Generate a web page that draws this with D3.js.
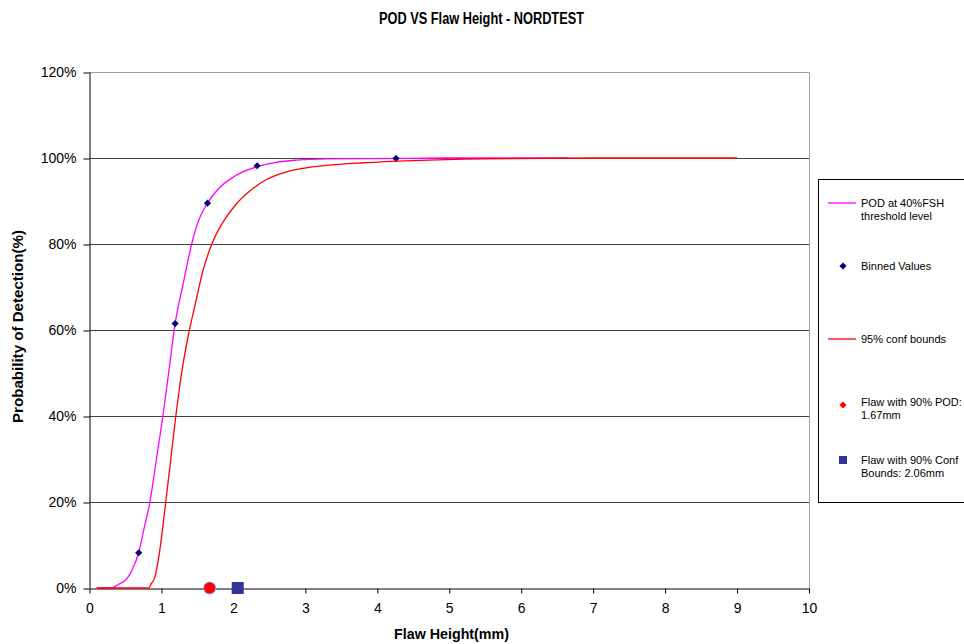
<!DOCTYPE html>
<html>
  <head>
    <meta charset="utf-8">
    <title>POD VS Flaw Height - NORDTEST</title>
    <script src="https://d3js.org/d3.v7.min.js"></script>
  </head>
  <body>
  <style media="screen">
    body { margin:0; background:#fff; }
    svg { display:block; font-family:"Liberation Sans", Arial, sans-serif; }
    .grid line { stroke:#404040; stroke-width:1; }
  </style>

<svg id="chart" width="964" height="644"></svg>

<script>
// pink POD curve (x in mm, y in %)
var podX = [0.1, 0.3, 0.4, 0.52, 0.6, 0.684, 0.76, 0.84, 0.93, 1.02, 1.1, 1.19, 1.305, 1.42, 1.51, 1.64, 1.79, 2.0, 2.33, 2.6, 2.88, 3.3, 4.26, 5.0, 6.66];
var podY = [0, 0, 0.8, 2.2, 4.5, 8.2, 14, 20, 30, 40, 50, 61.5, 71, 80, 85.2, 89.5, 92.8, 95.6, 98.0, 99.0, 99.5, 99.8, 99.9, 100, 100];

// red 95% conf bound curve
var confX = [0.1, 0.82, 0.86, 0.91, 0.97, 1.06, 1.13, 1.2, 1.28, 1.374, 1.467, 1.574, 1.70, 1.86, 2.02, 2.28, 2.46, 2.74, 2.93, 3.3, 3.81, 4.5, 5.5, 7.0, 9.0];
var confY = [0, 0, 1, 2.6, 8, 20, 30, 40, 50, 58.8, 65.8, 73.6, 80, 85.2, 88.9, 93, 95.0, 96.8, 97.5, 98.3, 98.9, 99.4, 99.8, 100, 100];

// binned points
var binX = [0.684, 1.19, 1.64, 2.33, 4.26];
var binY = [8.2, 61.5, 89.5, 98.2, 99.9];

// flaw markers
var pod90 = 1.67, conf90 = 2.06;

var xTicks = [0, 1, 2, 3, 4, 5, 6, 7, 8, 9, 10];
var yTicks = [0, 20, 40, 60, 80, 100, 120];

var legendLabels = [
  ["POD at 40%FSH", "threshold level"],
  ["Binned Values"],
  ["95% conf bounds"],
  ["Flaw with 90% POD:", "1.67mm"],
  ["Flaw with 90% Conf", "Bounds: 2.06mm"]
];

var svg = d3.select('#chart');

var x = d3.scaleLinear().domain([0, 10]).range([89.5, 809]);
var y = d3.scaleLinear().domain([0, 120]).range([588, 72]);

// grid lines
svg.append('g').attr('class', 'grid')
  .selectAll('line').data(yTicks.filter(d => d > 0 && d < 120))
  .enter().append('line')
  .attr('x1', x(0)).attr('x2', x(10))
  .attr('y1', d => Math.round(y(d)) + 0.5).attr('y2', d => Math.round(y(d)) + 0.5);

// top and right border (grey)
svg.append('path')
  .attr('d', 'M' + x(0) + ',' + (Math.round(y(120)) + 0.5) + 'H' + (x(10) + 0.5) + 'V' + y(0))
  .attr('fill', 'none').attr('stroke', '#a0a0a0');

// axes
var xAxis = svg.append('g')
  .attr('transform', 'translate(0,' + (Math.round(y(0)) + 0.5) + ')')
  .call(d3.axisBottom(x).tickValues(xTicks).tickSize(5).tickSizeOuter(0).tickFormat(d3.format('d')));
xAxis.selectAll('text').attr('font-size', 14).attr('fill', '#000').attr('dy', '1.2em');

var yAxis = svg.append('g')
  .attr('transform', 'translate(' + (x(0)) + ',0)')
  .call(d3.axisLeft(y).tickValues(yTicks).tickSize(6).tickSizeOuter(0).tickFormat(d => d + '%'));
yAxis.selectAll('text').attr('font-size', 14).attr('fill', '#000').attr('x', -13);
svg.selectAll('.domain, .tick line').attr('stroke', '#000');
yAxis.selectAll('.tick line').attr('y1', 0.5).attr('y2', 0.5);

var line = d3.line().x(d => x(d[0])).y(d => y(d[1])).curve(d3.curveMonotoneX);

// POD curve
svg.append('path')
  .datum(d3.zip(podX, podY))
  .attr('d', line).attr('fill', 'none').attr('stroke', '#ff00ff').attr('stroke-width', 1.3);

// binned values (diamond = rotated square)
var diamond = d3.symbol().type(d3.symbolSquare).size(26);
svg.append('g').selectAll('path').data(d3.zip(binX, binY))
  .enter().append('path')
  .attr('d', diamond)
  .attr('transform', d => 'translate(' + x(d[0]) + ',' + y(d[1]) + ') rotate(45)')
  .attr('fill', '#000080');

// conf bound curve
svg.append('path')
  .datum(d3.zip(confX, confY))
  .attr('d', line).attr('fill', 'none').attr('stroke', '#ff0000').attr('stroke-width', 1.3);

// flaw markers
svg.append('circle')
  .attr('cx', x(pod90)).attr('cy', y(0)).attr('r', 6)
  .attr('fill', '#ff0000').attr('stroke', '#9999cc').attr('stroke-width', 1);
svg.append('rect')
  .attr('x', x(conf90) - 6).attr('y', y(0) - 6).attr('width', 12).attr('height', 12)
  .attr('fill', '#333399');

// title and axis titles
svg.append('text')
  .attr('x', 379).attr('y', 24)
  .attr('font-size', 16).attr('font-weight', 'bold')
  .attr('textLength', 205).attr('lengthAdjust', 'spacingAndGlyphs')
  .text('POD VS Flaw Height - NORDTEST');

svg.append('text')
  .attr('x', 394).attr('y', 639)
  .attr('font-size', 14).attr('font-weight', 'bold')
  .attr('textLength', 115).attr('lengthAdjust', 'spacingAndGlyphs')
  .text('Flaw Height(mm)');

svg.append('text')
  .attr('transform', 'translate(23,423) rotate(-90)')
  .attr('font-size', 14).attr('font-weight', 'bold')
  .attr('textLength', 193).attr('lengthAdjust', 'spacingAndGlyphs')
  .text('Probability of Detection(%)');

// legend
var lg = svg.append('g');
lg.append('rect')
  .attr('x', 818.5).attr('y', 179.5).attr('width', 160).attr('height', 323)
  .attr('fill', '#fff').attr('stroke', '#000');

var legY = [203, 266, 339, 405, 460];
var legBase = [207, 270, 343, 406, 464];
lg.append('line').attr('x1', 828).attr('x2', 856).attr('y1', legY[0]).attr('y2', legY[0])
  .attr('stroke', '#ff00ff').attr('stroke-width', 1.3);
lg.append('path').attr('d', diamond).attr('transform', 'translate(843,' + legY[1] + ') rotate(45)').attr('fill', '#000080');
lg.append('line').attr('x1', 828).attr('x2', 856).attr('y1', legY[2]).attr('y2', legY[2])
  .attr('stroke', '#ff0000').attr('stroke-width', 1.3);
lg.append('path').attr('d', diamond).attr('transform', 'translate(843,' + legY[3] + ') rotate(45)').attr('fill', '#ff0000');
lg.append('rect').attr('x', 839).attr('y', legY[4] - 4).attr('width', 8).attr('height', 8).attr('fill', '#333399');

legendLabels.forEach(function(lines, i) {
  var t = lg.append('text').attr('x', 861).attr('y', legBase[i]).attr('font-size', 11);
  lines.forEach(function(s, j) {
    t.append('tspan').attr('x', 861).attr('dy', j === 0 ? 0 : 13).text(s);
  });
});
</script>
  </body>
</html>
